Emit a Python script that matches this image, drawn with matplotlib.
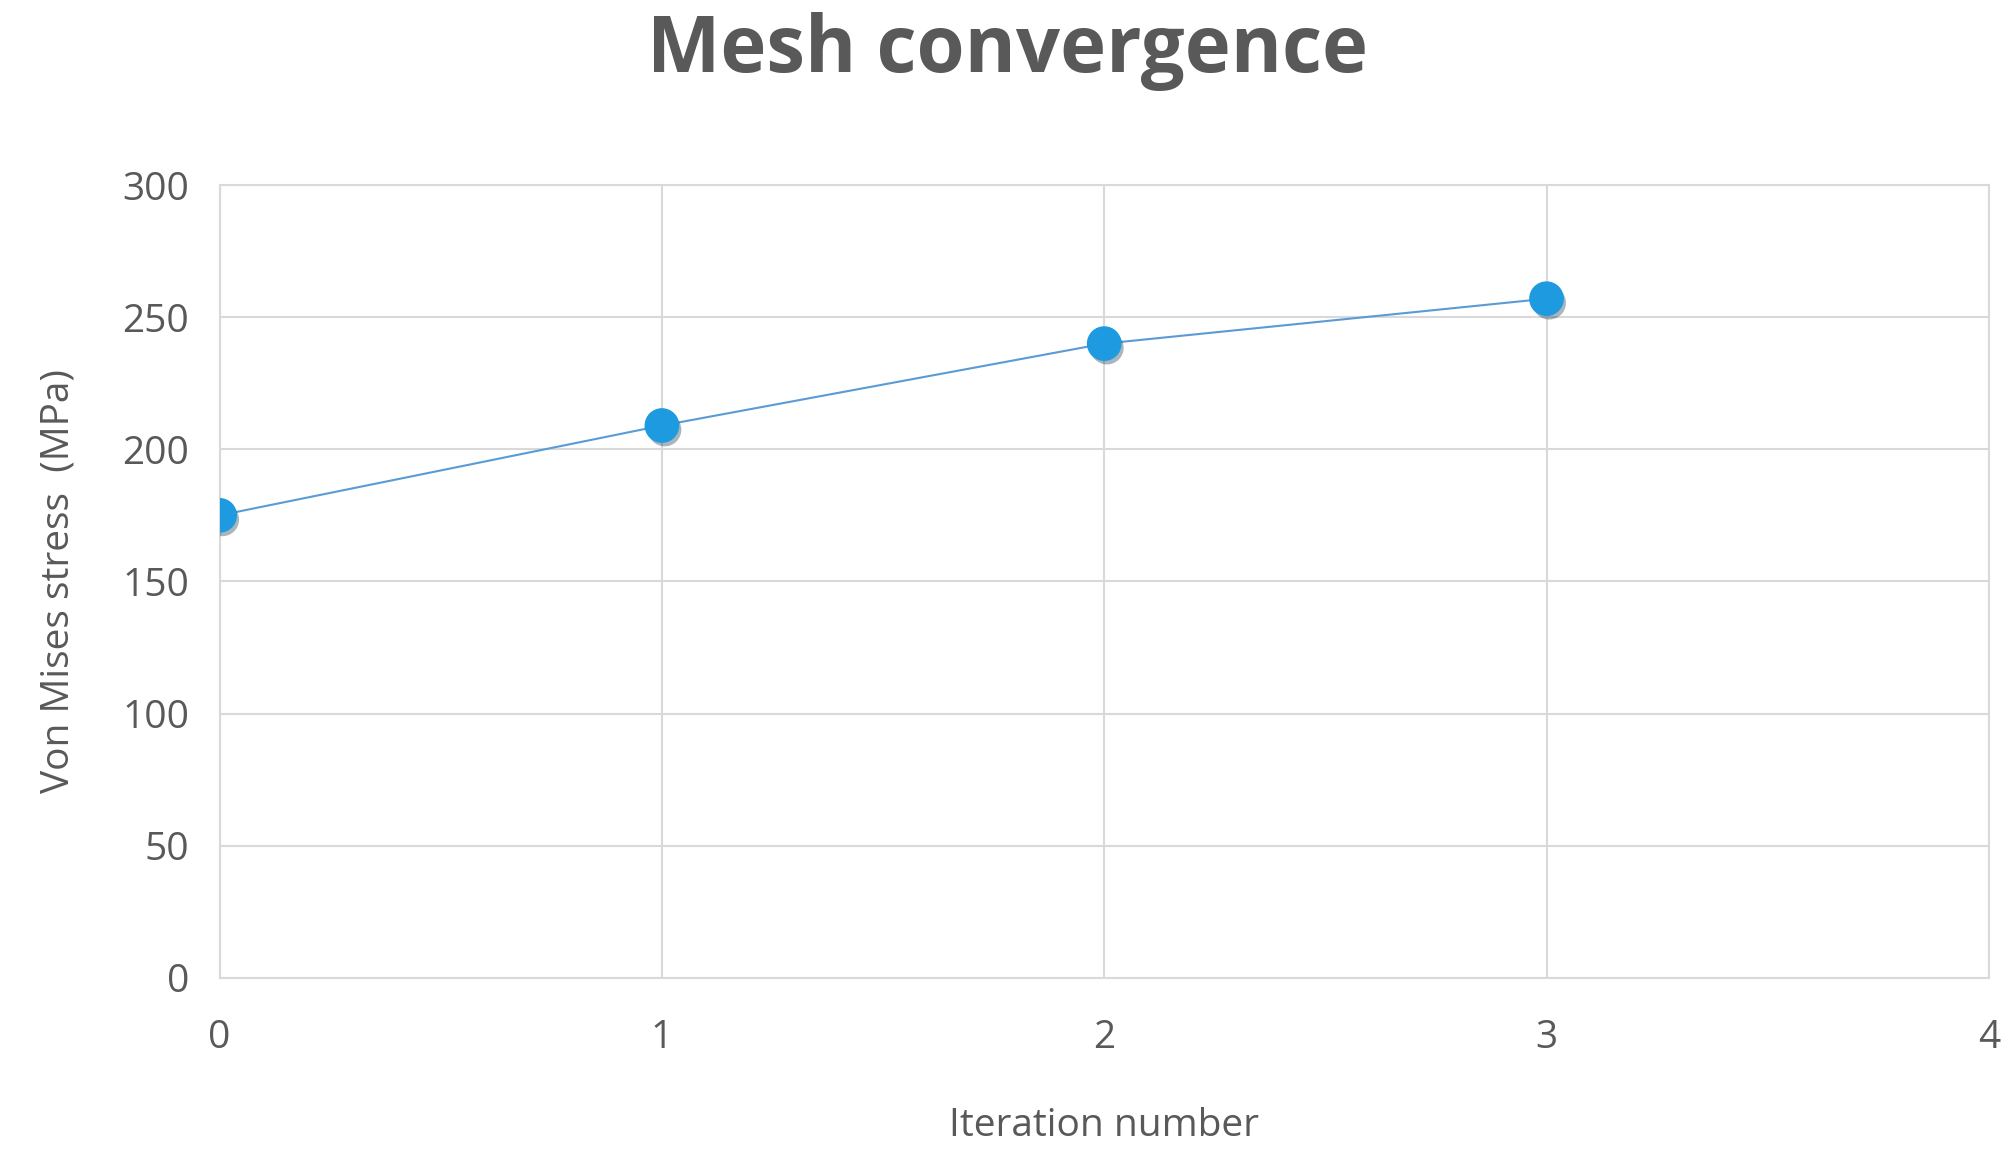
import matplotlib.pyplot as plt
import matplotlib.patheffects as pe

iterations = [0, 1, 2, 3]
stress = [175, 209, 240, 257]
x_ticks = [0, 1, 2, 3, 4]
y_ticks = [0, 50, 100, 150, 200, 250, 300]

plt.rcParams['font.family'] = ['Open Sans', 'DejaVu Sans']
txt = '#595959'

fig = plt.figure(figsize=(20.15, 11.64), dpi=100)
ax = fig.add_axes([0.109, 0.160, 0.878, 0.681])

ax.plot(iterations, stress, color='#5B9BD5', linewidth=1.5, zorder=3)
ax.plot(iterations, stress, linestyle='none', marker='o', markersize=24,
        color='#1E9BE0', markeredgecolor='#1E9BE0', zorder=4,
        path_effects=[pe.SimplePatchShadow(offset=(2, -3), alpha=0.35), pe.Normal()])

ax.set_xlim(0, 4)
ax.set_ylim(0, 300)
ax.set_xticks(x_ticks)
ax.set_yticks(y_ticks)
ax.grid(color='#D9D9D9', linewidth=1.5)
ax.set_axisbelow(True)
for s in ax.spines.values():
    s.set_color('#D9D9D9')
    s.set_linewidth(1.5)
ax.tick_params(length=0, labelsize=28, colors=txt, pad=22)
ax.tick_params(axis='x', pad=30)

ax.set_xlabel('Iteration number', fontsize=28, color=txt, labelpad=36)
ax.set_ylabel('Von Mises stress  (MPa)', fontsize=28, color=txt, labelpad=32)
fig.suptitle('Mesh convergence', fontsize=56, fontweight='bold', color=txt, y=0.99)

fig.savefig('out.png', dpi=100)
